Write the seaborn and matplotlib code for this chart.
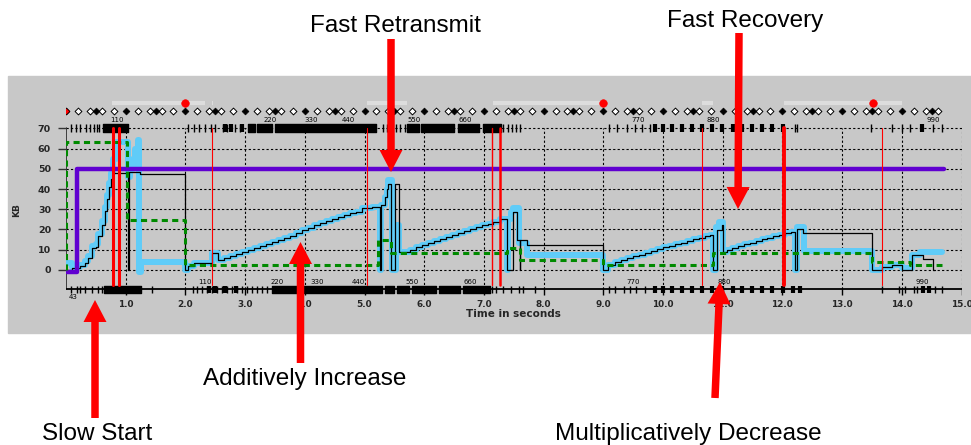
import matplotlib
matplotlib.use("Agg")
import matplotlib.pyplot as plt
from matplotlib.patches import Rectangle, FancyArrow
import seaborn as sns

# ---- TCP trace (time in s, KB) ----
# slow start staircase
ss_t = [0.0, 0.1, 0.23, 0.32, 0.37, 0.43, 0.5, 0.53, 0.6, 0.65, 0.69, 0.72, 0.76, 0.79]
ss_outst = [0.0, 1.0, 2.0, 3.5, 6.0, 11.0, 11.5, 17.0, 22.0, 29.0, 35.0, 41.0, 45.0, 47.8]
ss_cwnd = [3.5, 1.5, 2.5, 4.5, 7.0, 12.0, 13.0, 18.0, 24.0, 31.0, 37.0, 43.0, 48.0, 55.0]

# additive increase ramps
ramp1_t = [2.55, 2.65, 2.75, 2.85, 2.95, 3.05, 3.15, 3.25, 3.35, 3.45, 3.55, 3.65, 3.75,
           3.85, 3.95, 4.05, 4.15, 4.25, 4.35, 4.45, 4.55, 4.65, 4.75, 4.85, 4.95, 5.12]
ramp1_kb = [5.0, 5.8, 7.0, 8.0, 8.9, 9.8, 10.8, 11.6, 12.6, 13.6, 14.8, 15.8, 17.0,
            18.2, 19.5, 20.8, 22.0, 23.2, 24.4, 25.4, 26.4, 27.2, 28.0, 28.5, 30.5, 31.2]
ramp2_t = [5.57, 5.77, 5.87, 5.97, 6.07, 6.17, 6.27, 6.37, 6.47, 6.57, 6.67, 6.77, 6.87,
           6.97, 7.07, 7.16, 7.27]
ramp2_kb = [8.7, 9.9, 11.5, 12.3, 13.2, 14.2, 15.2, 16.2, 17.2, 18.2, 19.2, 20.2, 21.2,
            22.0, 22.8, 23.9, 25.0]
ramp3_t = [9.0, 9.08, 9.2, 9.3, 9.4, 9.5, 9.6, 9.7, 9.8, 9.9, 10.0, 10.1, 10.2, 10.3,
           10.4, 10.5, 10.6, 10.7, 10.78]
ramp3_kb = [0.0, 2.5, 4.0, 4.9, 5.8, 6.7, 7.6, 8.5, 9.4, 10.3, 11.1, 11.9, 12.7, 13.5,
            14.3, 15.1, 15.9, 16.6, 17.3]
ramp4_t = [11.0, 11.07, 11.15, 11.25, 11.35, 11.45, 11.55, 11.65, 11.75, 11.85, 11.95,
           12.05, 12.15]
ramp4_kb = [9.0, 10.0, 10.9, 11.8, 12.7, 13.5, 14.3, 15.1, 15.9, 16.6, 17.3, 18.1, 18.6]

# outstanding data (thin black)
outst_t = (ss_t + [1.04, 1.06, 1.24, 2.0, 2.05, 2.15, 2.44] + ramp1_t
           + [5.26, 5.28, 5.34, 5.37, 5.40, 5.44, 5.51] + ramp2_t
           + [7.38, 7.48, 7.55, 7.6, 7.61, 7.72] + ramp3_t
           + [10.84, 10.9, 10.98] + ramp4_t
           + [12.21, 12.25, 12.35, 13.5, 13.66, 13.83, 14.0, 14.17, 14.36, 14.53, 14.56])
outst_kb = (ss_outst + [0.0, 48.6, 47.3, 0.0, 2.0, 3.3, 8.6] + ramp1_kb
            + [0.0, 32.0, 36.0, 40.0, 42.5, 0.0, 42.5] + ramp2_kb
            + [0.0, 28.8, 14.8, 0.0, 14.8, 12.4] + ramp3_kb
            + [0.0, 19.8, 22.2] + ramp4_kb
            + [0.0, 20.0, 18.1, 0.0, 1.3, 2.5, 0.0, 7.4, 5.3, 0.0, 0.0])

# congestion window (thick cyan)
cwnd_t = (ss_t + [0.83, 1.04, 1.08, 1.12, 1.16, 1.2, 1.22, 1.25, 2.0, 2.05, 2.15, 2.44] + ramp1_t
          + [5.26, 5.28, 5.34, 5.37, 5.40, 5.46, 5.52] + ramp2_t
          + [7.38, 7.41, 7.45, 7.49, 7.58, 7.72] + ramp3_t
          + [10.84, 10.88, 10.93] + ramp4_t
          + [12.21, 12.25, 12.37, 13.5, 13.66, 13.83, 14.0, 14.17, 14.3, 14.67])
cwnd_kb = (ss_cwnd + [63.0, 46.0, 50.0, 55.0, 60.0, 64.0, -1.0, 4.0, 0.0, 2.0, 3.3, 8.6] + ramp1_kb
           + [0.0, 32.0, 36.0, 40.0, 44.5, 0.0, 22.0] + ramp2_kb
           + [0.0, 25.0, 28.8, 30.5, 13.5, 7.4] + ramp3_kb
           + [0.0, 21.4, 23.9] + ramp4_kb
           + [0.0, 21.4, 9.5, 0.0, 1.3, 2.5, 1.0, 7.4, 9.0, 9.0])

# receiver window (purple) and ssthresh (green dashed)
rwnd_t = [0.02, 0.19, 14.7]
rwnd_kb = [-1.0, 50.0, 50.0]
ssthresh_t = [0.0, 0.0, 1.02, 2.0, 5.23, 5.45, 7.38, 7.6, 9.0, 10.84, 13.5, 14.14, 14.67]
ssthresh_kb = [0.0, 63.0, 24.6, 2.5, 14.8, 8.3, 10.7, 5.0, 2.5, 8.3, 4.1, 2.5, 2.5]

# retransmissions (red verticals), timeouts, timer bars
retx_t = [0.78, 0.89, 2.44, 5.05, 7.14, 7.27, 10.65, 12.02, 13.66]
retx_lw = [2.2, 2.2, 0.8, 0.8, 1.0, 1.8, 0.8, 2.8, 0.8]
timeout_t = [2.0, 9.0, 13.52]
timer_spans = [(0.77, 2.33), (2.44, 2.47), (5.05, 5.71), (7.16, 9.0), (10.66, 10.83), (12.02, 14.01)]

# packet tick rows (top: sent, bottom: acked)
top_ticks = [0.08, 0.16, 0.23, 0.33, 0.41, 0.47, 0.52, 0.55, 2.05, 2.14, 2.22, 2.32, 2.43,
             2.49, 2.63, 2.7, 2.83, 2.92, 5.31, 5.38, 5.45, 5.52, 5.6, 5.68, 7.32, 7.4,
             7.47, 7.53, 7.6, 9.1, 9.23, 9.4, 9.53, 9.65, 9.78, 12.21, 12.25, 13.49, 13.83,
             14.0, 14.14, 14.53, 14.67]
top_blocks = [(0.62, 1.04), (3.05, 3.16), (3.2, 3.45), (3.5, 5.2), (5.71, 5.92),
              (5.95, 6.5), (6.56, 6.92), (6.98, 7.29)]
top_thick = [2.66, 2.76, 2.94, 9.87, 10.0, 10.15, 10.32, 10.48, 10.65, 10.82, 10.98,
             11.17, 11.32, 11.49, 11.66, 11.83, 12.01, 14.33]
bottom_ticks = [0.09, 0.18, 0.23, 0.32, 0.43, 0.54, 0.6, 1.44, 2.13, 2.2, 2.28, 2.36,
                2.45, 2.53, 2.62, 2.7, 2.78, 2.87, 2.95, 3.03, 3.12, 3.2, 3.28, 3.36,
                7.13, 7.2, 7.32, 7.45, 7.58, 7.66, 7.85, 9.1, 9.2, 9.35, 9.45, 9.55, 9.7,
                13.66, 13.95, 14.05, 14.2, 14.25, 14.55, 14.67]
bottom_blocks = [(0.63, 1.26), (3.45, 5.3), (5.35, 5.5), (5.55, 5.75), (5.8, 6.2),
                 (6.25, 6.6), (6.65, 7.1)]
bottom_thick = [2.4, 2.5, 2.67, 2.85, 9.87, 10.0, 10.15, 10.32, 10.48, 10.65, 10.82,
                10.98, 11.17, 11.32, 11.49, 11.66, 11.83, 12.01, 12.18, 12.3, 14.35, 14.45]
seq_labels = ['110', '220', '330', '440', '550', '660', '770', '880', '990']
top_seq_t = [0.85, 3.42, 4.11, 4.73, 5.83, 6.68, 9.59, 10.85, 14.53]
bottom_seq_t = [2.33, 3.53, 4.2, 4.9, 5.79, 6.77, 9.5, 11.02, 14.35]

# diamond ruler above the plot
diamond_seconds = list(range(15))
diamond_open_offsets = [0.2, 0.4, 0.6, 0.8]
diamond_filled_offsets = [0.0, 0.5]

y_ticks = [0, 10, 20, 30, 40, 50, 60, 70]
x_ticks = [1, 2, 3, 4, 5, 6, 7, 8, 9, 10, 11, 12, 13, 14, 15]

# annotations: (text, x, y, ha) in pixels, arrows: (x0, y0, x1, y1)
notes = [("Fast Retransmit", 395.5, 32, 'center'), ("Fast Recovery", 745, 27, 'center'),
         ("Additively Increase", 203, 385, 'left'), ("Slow Start", 42, 440, 'left'),
         ("Multiplicatively Decrease", 555, 440, 'left')]
arrows = [(391, 39, 391, 172), (739, 33, 738, 209), (300.5, 363, 300.5, 242),
          (95, 418, 95, 300), (715, 398, 720, 282)]

sns.set_theme(style="white")
plt.rcParams['font.family'] = ['DejaVu Sans']

W, H = 971, 445
fig = plt.figure(figsize=(W / 100, H / 100), dpi=100)
fig.patch.set_facecolor('white')
fig.patches.append(Rectangle((8 / W, 1 - 333 / H), 963 / W, 257 / H,
                             transform=fig.transFigure, color='#c8c8c8', zorder=-10))

ax = fig.add_axes([66 / W, 1 - 298.3 / H, 895.5 / W, 202.4 / H])
ax.set_facecolor('none')
for s in ax.spines.values():
    s.set_visible(False)
ax.set_xlim(0, 15)
ax.set_ylim(-14, 86)

# grid and frame
ax.hlines(y_ticks, 0, 15, colors='black', lw=0.8, linestyles=(0, (2, 2)), zorder=1)
ax.vlines(x_ticks, -9.5, 70, colors='black', lw=0.8, linestyles=(0, (2, 2)), zorder=1)
ax.vlines(x_ticks, -12.3, -9.5, colors='black', lw=1.0, zorder=2)
ax.plot([0, 0], [-9.5, 70], color='#333333', lw=1.3, zorder=2)
ax.plot([0, 15], [-9.5, -9.5], color='black', lw=1.3, zorder=2)

# packet tick rows
ax.vlines(top_ticks, 68.3, 72, colors='black', lw=1.0, zorder=2)
ax.vlines(top_thick, 68.3, 72, colors='black', lw=3.0, zorder=2)
ax.broken_barh([(a, b - a) for a, b in top_blocks], (68.3, 3.7), color='black', zorder=2)
ax.vlines(bottom_ticks, -11.5, -7.8, colors='black', lw=1.0, zorder=2)
ax.vlines(bottom_thick, -11.5, -7.8, colors='black', lw=3.0, zorder=2)
ax.broken_barh([(a, b - a) for a, b in bottom_blocks], (-11.5, 3.7), color='black', zorder=2)
for t, lab in zip(top_seq_t, seq_labels):
    ax.text(t, 74.3, lab, fontsize=5, ha='center', va='center', color='black')
for t, lab in zip(bottom_seq_t, seq_labels):
    ax.text(t, -5.8, lab, fontsize=5, ha='center', va='center', color='black')
ax.text(0.12, -13.2, '43', fontsize=5, ha='center', va='center', color='black')

# timer bars, timeouts, diamonds
for a, b in timer_spans:
    ax.plot([a, b], [82.6, 82.6], color='#dddddd', lw=3, solid_capstyle='butt', zorder=1)
open_x = [s + o for s in diamond_seconds for o in diamond_open_offsets if s + o <= 14.65]
filled_x = [s + o for s in diamond_seconds for o in diamond_filled_offsets if s + o <= 14.65]
sns.scatterplot(x=open_x, y=[78.3] * len(open_x), marker='D', s=12, color='white',
                edgecolor='black', linewidth=0.7, ax=ax, zorder=3)
sns.scatterplot(x=filled_x, y=[78.3] * len(filled_x), marker='D', s=12, color='black',
                edgecolor='black', linewidth=0.5, ax=ax, zorder=3)
sns.scatterplot(x=[0.0], y=[78.3], marker='D', s=12, color='red', edgecolor='black',
                linewidth=0.5, ax=ax, zorder=4)
sns.scatterplot(x=timeout_t, y=[82.4] * len(timeout_t), s=30, color='red',
                edgecolor='red', ax=ax, zorder=4)

# main traces
sns.lineplot(x=cwnd_t, y=cwnd_kb, estimator=None, sort=False, drawstyle='steps-post',
             color='#60ccf8', lw=4.3, ax=ax, zorder=3)
sns.lineplot(x=outst_t, y=outst_kb, estimator=None, sort=False, drawstyle='steps-post',
             color='black', lw=0.9, ax=ax, zorder=4)
sns.lineplot(x=rwnd_t, y=rwnd_kb, estimator=None, sort=False, drawstyle='steps-post',
             color='#6000d0', lw=3.2, ax=ax, zorder=5)
sns.lineplot(x=ssthresh_t, y=ssthresh_kb, estimator=None, sort=False, drawstyle='steps-post',
             color='#008a00', lw=2.2, ax=ax, zorder=6)
ax.lines[-1].set_dashes([2, 1.4])
for t, w in zip(retx_t, retx_lw):
    ax.plot([t, t], [-7.5, 70], color='red', lw=w, zorder=7)

ax.set_yticks(y_ticks)
ax.set_yticklabels([str(v) for v in y_ticks], fontsize=6.8, fontweight='bold')
ax.set_xticks(x_ticks)
ax.set_xticklabels([f"{v}.0" for v in x_ticks], fontsize=6.4, fontweight='bold')
ax.tick_params(axis='y', length=5.8, width=1.0, color='#333333', pad=5, left=True)
ax.tick_params(axis='x', length=0, pad=1)
ax.set_xlabel('')
ax.set_ylabel('')
ax.grid(False)

fig.text(513.5 / W, 1 - 314 / H, 'Time in seconds', fontsize=7.5, fontweight='bold',
         ha='center', va='center')
fig.text(16.5 / W, 1 - 210 / H, 'KB', fontsize=6.5, fontweight='bold', rotation=90,
         ha='center', va='center')

# annotation overlay in pixel coordinates
ov = fig.add_axes([0, 0, 1, 1], zorder=10)
ov.set_xlim(0, W)
ov.set_ylim(H, 0)
ov.axis('off')
for x0, y0, x1, y1 in arrows:
    ov.add_patch(FancyArrow(x0, y0, x1 - x0, y1 - y0, width=7.5, head_width=23,
                            head_length=22, length_includes_head=True,
                            color='#ff0000', lw=0))
for txt, x, y, ha in notes:
    ov.text(x, y, txt, fontsize=17.5, family=['Liberation Sans', 'DejaVu Sans'],
            ha=ha, va='baseline', color='black')

fig.savefig('out.png', dpi=100)
